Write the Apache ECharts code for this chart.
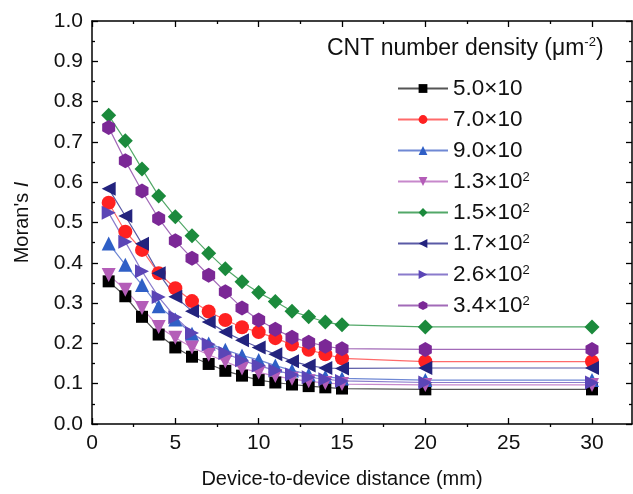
<!DOCTYPE html>
<html>
<head>
<meta charset="utf-8">
<script src="https://cdn.jsdelivr.net/npm/echarts@6/dist/echarts.min.js"></script>
<style>
  html, body { margin: 0; padding: 0; background: #ffffff; }
  #chart { width: 633px; height: 494px; }
</style>
</head>
<body>
<div id="chart"></div>
<script>
// Device-to-device distance (mm)
const distances = [1, 2, 3, 4, 5, 6, 7, 8, 9, 10, 11, 12, 13, 14, 15, 20, 30];

// Moran's I for each CNT number density
const moran50  = [0.354, 0.317, 0.266, 0.222, 0.190, 0.167, 0.149, 0.132, 0.120, 0.109, 0.103, 0.098, 0.094, 0.091, 0.088, 0.086, 0.086];
const moran70  = [0.549, 0.477, 0.432, 0.374, 0.337, 0.305, 0.279, 0.258, 0.240, 0.228, 0.213, 0.197, 0.184, 0.173, 0.163, 0.155, 0.155];
const moran90  = [0.448, 0.395, 0.345, 0.292, 0.259, 0.224, 0.200, 0.184, 0.170, 0.159, 0.145, 0.133, 0.123, 0.117, 0.113, 0.109, 0.109];
const moran130 = [0.370, 0.333, 0.288, 0.241, 0.214, 0.190, 0.172, 0.155, 0.138, 0.128, 0.119, 0.112, 0.106, 0.102, 0.099, 0.097, 0.097];
const moran150 = [0.766, 0.703, 0.633, 0.566, 0.514, 0.467, 0.424, 0.385, 0.353, 0.326, 0.304, 0.280, 0.266, 0.253, 0.246, 0.241, 0.241];
const moran170 = [0.584, 0.516, 0.447, 0.374, 0.316, 0.280, 0.253, 0.228, 0.208, 0.190, 0.173, 0.156, 0.145, 0.139, 0.138, 0.139, 0.139];
const moran260 = [0.524, 0.452, 0.379, 0.315, 0.265, 0.226, 0.198, 0.176, 0.158, 0.145, 0.133, 0.123, 0.116, 0.111, 0.107, 0.103, 0.103];
const moran340 = [0.736, 0.653, 0.578, 0.510, 0.455, 0.411, 0.369, 0.328, 0.288, 0.258, 0.235, 0.215, 0.203, 0.193, 0.187, 0.185, 0.185];

const seriesNames = ['5.0×10', '7.0×10', '9.0×10', '1.3×10²', '1.5×10²', '1.7×10²', '2.6×10²', '3.4×10²'];
const seriesValues = [moran50, moran70, moran90, moran130, moran150, moran170, moran260, moran340];

// Axis ticks
const xMajorTicks = [0, 5, 10, 15, 20, 25, 30];
const xMinorTicks = [2.5, 7.5, 12.5, 17.5, 22.5, 27.5];

const FONT = '"Liberation Sans", Arial, sans-serif';
const HEXAGON = 'path://M0,-1L0.866,-0.5L0.866,0.5L0,1L-0.866,0.5L-0.866,-0.5Z';
const X_MAX = 32.4;

// marker shape, marker colour, line colour
const styles = [
  { symbol: 'rect',     rotate: 0,   size: 12, color: '#000000', line: '#555555' },
  { symbol: 'circle',   rotate: 0,   size: 14, color: '#ff2121', line: '#ff6a6a' },
  { symbol: 'triangle', rotate: 0,   size: 14, color: '#2f5fc6', line: '#6f88d4' },
  { symbol: 'triangle', rotate: 180, size: 14, color: '#b45db8', line: '#c788cb' },
  { symbol: 'diamond',  rotate: 0,   size: 15, color: '#1b8a3c', line: '#52a868' },
  { symbol: 'triangle', rotate: 90,  size: 14, color: '#23237e', line: '#5a5aa6' },
  { symbol: 'triangle', rotate: -90, size: 14, color: '#5b45b6', line: '#8a7bcc' },
  { symbol: HEXAGON,    rotate: 0,   size: 15, color: '#7b2896', line: '#a26ab8' }
];

const supStyle = { fontSize: 13, lineHeight: 13, verticalAlign: 'top', fontFamily: FONT, color: '#111' };
const axisColor = { color: '#000', width: 1.5 };
const tickColor = { color: '#000', width: 1.3 };

const series = seriesNames.map((name, i) => ({
  name: name,
  type: 'line',
  xAxisIndex: 0,
  yAxisIndex: 0,
  data: distances.map((d, j) => [d, seriesValues[i][j]]),
  symbol: styles[i].symbol,
  symbolRotate: styles[i].rotate,
  symbolSize: styles[i].size,
  symbolKeepAspect: true,
  showAllSymbol: true,
  itemStyle: { color: styles[i].color, borderWidth: 0 },
  lineStyle: { color: styles[i].line, width: 1.2 },
  emphasis: { disabled: true },
  animation: false
}));

// x axis: grid 0 carries the frame, major ticks and labels; grid 1 only the minor ticks
function xAxisDef(gridIndex, position, ticks, length, withLine) {
  return {
    type: 'value', gridIndex: gridIndex, position: position, min: 0, max: X_MAX,
    axisLine: { show: withLine, onZero: false, lineStyle: axisColor },
    axisTick: { show: true, inside: true, length: length, customValues: ticks, lineStyle: tickColor },
    axisLabel: { show: false },
    splitLine: { show: false }
  };
}

function yFrameAxis(position) {
  return {
    type: 'value', gridIndex: 0, position: position, min: 0, max: 1, interval: 0.1,
    axisLine: { show: true, onZero: false, lineStyle: axisColor },
    axisTick: { inside: true, length: 6, lineStyle: tickColor },
    minorTick: { show: true, splitNumber: 2, length: 3, lineStyle: tickColor },
    axisLabel: { show: false },
    splitLine: { show: false }
  };
}

const bottomAxis = xAxisDef(0, 'bottom', xMajorTicks, 6, true);
bottomAxis.axisLabel = { show: true, customValues: xMajorTicks, margin: 9, color: '#111', fontSize: 21, fontFamily: FONT };
bottomAxis.name = 'Device-to-device distance (mm)';
bottomAxis.nameLocation = 'middle';
bottomAxis.nameGap = 45;
bottomAxis.nameTextStyle = { fontSize: 20, color: '#111', fontFamily: FONT, padding: [0, 40, 0, 0] };

const leftAxis = yFrameAxis('left');
leftAxis.axisLabel = { show: true, margin: 9, color: '#111', fontSize: 21, fontFamily: FONT, formatter: v => v.toFixed(1) };
leftAxis.name = "Moran's {it|I}";
leftAxis.nameLocation = 'middle';
leftAxis.nameGap = 60;
leftAxis.nameRotate = 90;
leftAxis.nameTextStyle = { fontSize: 20, color: '#111', fontFamily: FONT, rich: { it: { fontStyle: 'italic', fontSize: 20, fontFamily: FONT, color: '#111' } } };

const plotBox = { left: 92, right: 1, top: 21, bottom: 67, containLabel: false };

const chart = echarts.init(document.getElementById('chart'), null, { renderer: 'canvas' });
chart.setOption({
  backgroundColor: '#ffffff',
  animation: false,
  grid: [Object.assign({}, plotBox), Object.assign({}, plotBox)],
  title: {
    text: 'CNT number density (μm{sup|-2})',
    left: 327, top: 36, padding: 0,
    textStyle: { fontSize: 23, fontWeight: 'normal', color: '#111', fontFamily: FONT, lineHeight: 26, rich: { sup: supStyle } }
  },
  legend: {
    orient: 'vertical', left: 397, top: 77, padding: 0,
    itemWidth: 50, itemHeight: 11, itemGap: 8,
    data: seriesNames,
    formatter: name => name.replace('²', '{sup|2}'),
    textStyle: { fontSize: 22.5, lineHeight: 22, color: '#111', fontFamily: FONT, rich: { sup: supStyle } }
  },
  xAxis: [
    bottomAxis,
    xAxisDef(0, 'top', xMajorTicks, 6, true),
    xAxisDef(1, 'bottom', xMinorTicks, 3, false),
    xAxisDef(1, 'top', xMinorTicks, 3, false)
  ],
  yAxis: [
    leftAxis,
    yFrameAxis('right'),
    { type: 'value', gridIndex: 1, min: 0, max: 1, show: false }
  ],
  series: series
});
</script>
</body>
</html>
